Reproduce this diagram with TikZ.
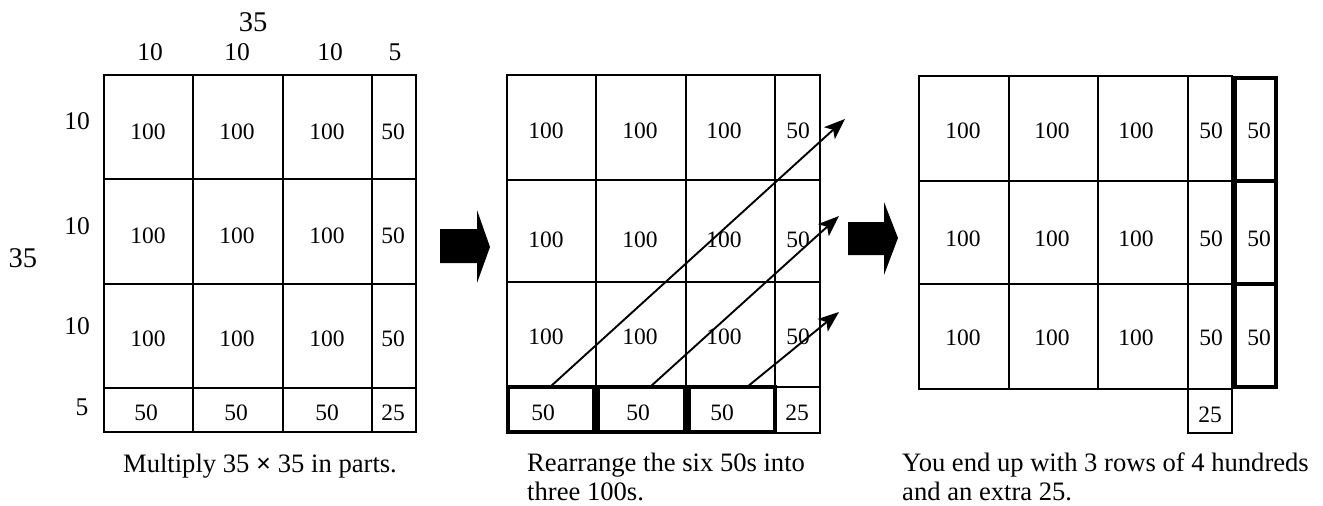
\documentclass[tikz,border=0pt]{standalone}
\usepackage{fontspec}
\setmainfont{Liberation Serif}
\usetikzlibrary{arrows.meta}
\begin{document}
\begin{tikzpicture}[x=1pt,y=-1pt,
  gridline/.style={line width=1.6pt},
  thickbox/.style={line width=4pt},
  cellnum/.style={inner sep=0pt,font=\fontsize{23.5}{28}\selectfont},
  dimlab/.style={inner sep=0pt,font=\fontsize{25.5}{30}\selectfont},
  biglab/.style={inner sep=0pt,font=\fontsize{28.5}{33}\selectfont},
  captext/.style={inner sep=0pt,anchor=base west,font=\fontsize{26.6}{31}\selectfont},
  movearrow/.style={line width=1.9pt,-{Stealth[length=21pt,width=16pt,inset=5pt]}},
  blockarrow/.style={fill=black}]
\useasboundingbox (0,0) rectangle (1323,506);

% ---------- grid 1 ----------
\draw[gridline] (104,75) rectangle (416,432);
\foreach \x in {193,283,372} \draw[gridline] (\x,75) -- (\x,432);
\foreach \y in {179,284,388} \draw[gridline] (104,\y) -- (416,\y);

\foreach \y/\r in {132/1,236/2,339/3}{
  \foreach \x/\c/\t in {148/1/100,237/2/100,327/3/100,393/4/50}{
    \node[cellnum] (a\r\c) at (\x,\y) {\t};}}
\foreach \x/\c/\t in {146/1/50,236/2/50,327/3/50,393/4/25}
  \node[cellnum] (a4\c) at (\x,413) {\t};

\node[biglab] (top35) at (253,22) {35};
\foreach \x/\c/\t in {150/1/10,237/2/10,330/3/10,395/4/5}
  \node[dimlab] (top\c) at (\x,52) {\t};
\node[biglab] (left35) at (23,258) {35};
\foreach \y/\r/\t in {121/1/10,226/2/10,326/3/10}
  \node[dimlab] (left\r) at (77,\y) {\t};
\node[dimlab] (left4) at (82,407) {5};

\node[captext,anchor=base] (cap1) at (260,472) {Multiply 35 \textbf{×} 35 in parts.};

% ---------- block arrow 1 ----------
\fill[blockarrow] (440,229) -- (477,229) -- (477,210) -- (490,247) -- (477,283) -- (477,263) -- (440,263) -- cycle;

% ---------- grid 2 ----------
\draw[gridline] (507,75) rectangle (820,433);
\foreach \x in {596,686,775} \draw[gridline] (\x,75) -- (\x,433);
\foreach \y in {180,282,387} \draw[gridline] (507,\y) -- (820,\y);

\draw[thickbox] (508,387) rectangle (594,432);
\draw[thickbox] (598,387) rectangle (685,432);
\draw[thickbox] (689,387) rectangle (775,432);

\foreach \y/\r in {131/1,240/2,337/3}{
  \foreach \x/\c/\t in {546/1/100,640/2/100,724/3/100,798/4/50}{
    \node[cellnum] (b\r\c) at (\x,\y) {\t};}}
\foreach \x/\c/\t in {543/1/50,638/2/50,722/3/50,797/4/25}
  \node[cellnum] (b4\c) at (\x,413) {\t};

\coordinate (m1s) at (550,387); \coordinate (m1e) at (845,119);
\coordinate (m2s) at (650,387); \coordinate (m2e) at (839,216);
\coordinate (m3s) at (747,387); \coordinate (m3e) at (839,312);
\draw[movearrow] (m1s) -- (m1e);
\draw[movearrow] (m2s) -- (m2e);
\draw[movearrow] (m3s) -- (m3e);

\node[captext] (cap2a) at (527,471) {Rearrange the six 50s into};
\node[captext] (cap2b) at (527,500) {three 100s.};

% ---------- block arrow 2 ----------
\fill[blockarrow] (848,222) -- (884,222) -- (884,202) -- (898,238) -- (884,275) -- (884,255) -- (848,255) -- cycle;

% ---------- grid 3 ----------
\draw[gridline] (919,76) rectangle (1232,389);
\foreach \x in {1009,1098,1188} \draw[gridline] (\x,76) -- (\x,389);
\foreach \y in {181,284} \draw[gridline] (919,\y) -- (1232,\y);
\draw[gridline] (1188,389) rectangle (1232,433);

\draw[thickbox] (1235,78) rectangle (1276,181);
\draw[thickbox] (1235,181) rectangle (1276,284);
\draw[thickbox] (1235,284) rectangle (1276,387);

\foreach \y/\r in {131/1,239/2,338/3}{
  \foreach \x/\c/\t in {963/1/100,1052/2/100,1136/3/100,1211/4/50,1259/5/50}{
    \node[cellnum] (c\r\c) at (\x,\y) {\t};}}
\node[cellnum] (c44) at (1210,415) {25};

\node[captext] (cap3a) at (902,471) {You end up with 3 rows of 4 hundreds};
\node[captext] (cap3b) at (902,500) {and an extra 25.};
\end{tikzpicture}
\end{document}
